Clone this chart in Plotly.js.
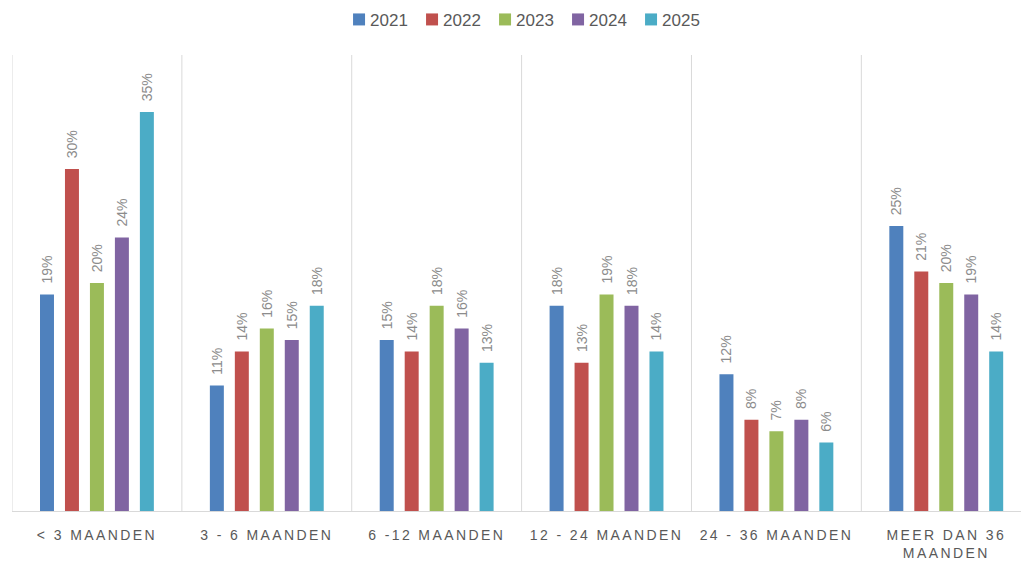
<!DOCTYPE html>
<html>
<head>
<meta charset="utf-8">
<script src="https://cdn.plot.ly/plotly-3.0.1.min.js"></script>
<style>
html,body{margin:0;padding:0;background:#fff;}
#chart{width:1021px;height:562px;}
.xtick text{letter-spacing:2.4px;}
.legendtext{transform:translateX(-9px);}
</style>
</head>
<body>
<div id="chart"></div>
<script>
const categories = ["< 3 MAANDEN", "3 - 6 MAANDEN", "6 -12 MAANDEN", "12 - 24 MAANDEN", "24 - 36 MAANDEN", "MEER DAN 36<br>MAANDEN"];
const years = ["2021", "2022", "2023", "2024", "2025"];
const v2021 = [19, 11, 15, 18, 12, 25];
const v2022 = [30, 14, 14, 13, 8, 21];
const v2023 = [20, 16, 18, 19, 7, 20];
const v2024 = [24, 15, 16, 18, 8, 19];
const v2025 = [35, 18, 13, 14, 6, 14];
const seriesValues = [v2021, v2022, v2023, v2024, v2025];
const colors = ["#4F81BD", "#C0504D", "#9BBB59", "#8064A2", "#4BACC6"];

const xIdx = categories.map((c, i) => i);
const traces = years.map((y, k) => ({
  type: "bar",
  name: y,
  x: xIdx,
  y: seriesValues[k],
  marker: {color: colors[k]},
  text: seriesValues[k].map(v => "\u00a0\u00a0" + v + "%"),
  textposition: "outside",
  textangle: -90,
  constraintext: "none",
  textfont: {color: "#8c8c8c", size: 14, family: "Liberation Sans, Arial, sans-serif"},
  cliponaxis: false,
  hoverinfo: "skip"
}));

const shapes = [];
for (let i = 0; i < categories.length; i++) {
  shapes.push({type: "line", xref: "x", yref: "paper", x0: i - 0.5, x1: i - 0.5, y0: 0, y1: 1,
    line: {color: "#d9d9d9", width: 1}, layer: "below"});
}

const layout = {
  width: 1021, height: 562,
  margin: {l: 12, r: 0, t: 55, b: 51},
  paper_bgcolor: "#ffffff", plot_bgcolor: "#ffffff",
  font: {family: "Liberation Sans, Arial, sans-serif", color: "#595959"},
  barmode: "group",
  bargap: 0.265,
  bargroupgap: 0.44,
  showlegend: true,
  legend: {orientation: "h", x: 0.505, xanchor: "center", y: 1.077, yanchor: "middle",
    font: {size: 17, color: "#595959"}, traceorder: "normal", itemwidth: 30,
    entrywidth: 28, entrywidthmode: "pixels"},
  xaxis: {
    range: [-0.5, 5.44],
    tickmode: "array", tickvals: xIdx, ticktext: categories,
    tickfont: {size: 14, color: "#595959"},
    showgrid: false, zeroline: false,
    showline: true, linecolor: "#d9d9d9", linewidth: 1,
    ticks: "", ticklabelstandoff: 11, fixedrange: true
  },
  yaxis: {range: [0, 40], visible: false, showgrid: false, zeroline: false, fixedrange: true},
  shapes: shapes
};

Plotly.newPlot("chart", traces, layout, {displayModeBar: false, staticPlot: true});
</script>
</body>
</html>
